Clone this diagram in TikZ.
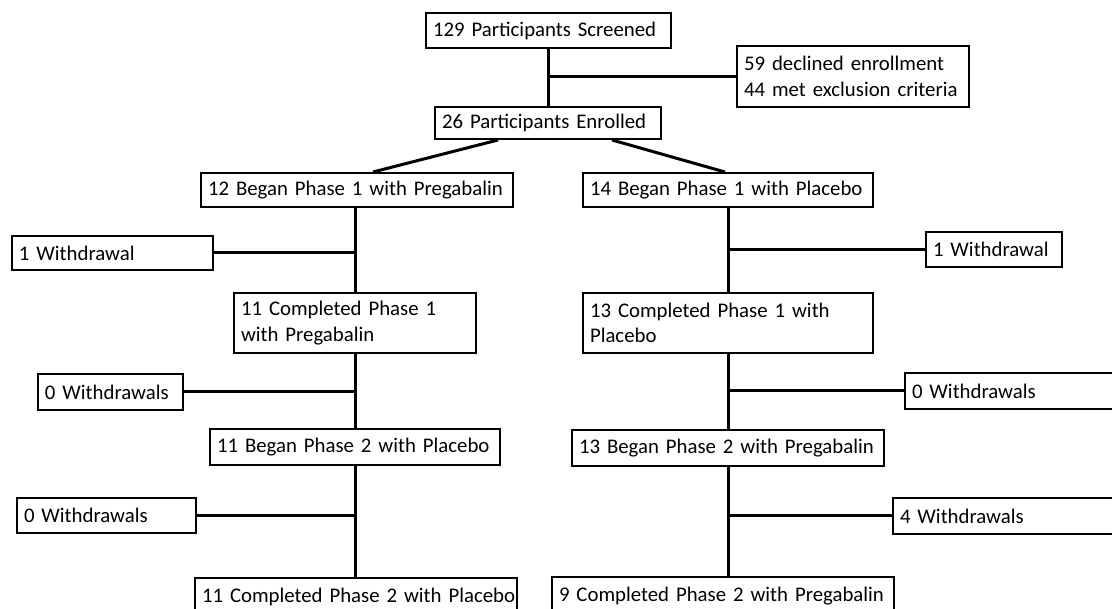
\documentclass[tikz,border=0pt]{standalone}
\usepackage{fontspec}
\setmainfont{Carlito}
\newcommand\myboxfont{\fontsize{20.8}{25.6}\selectfont}
\begin{document}
\begin{tikzpicture}[x=1pt,y=-1pt,
  box/.style={draw, line width=2pt, inner xsep=7pt, inner ysep=0pt, align=left,
    font=\myboxfont},
  link/.style={line width=3pt}]
\useasboundingbox (0,0) rectangle (1112,609);
\clip (0,0) rectangle (1112,609);
% boxes
\node[box, text width=231, minimum height=35] (scr) at (548.5,30.5) {\mbox{129 Participants Screened}};
\node[box, text width=218, minimum height=61] (decl) at (853,76.5) {\mbox{59 declined enrollment}\\\mbox{44 met exclusion criteria}};
\node[box, text width=212, minimum height=32] (enr) at (548,123) {\mbox{26 Participants Enrolled}};
\node[box, text width=298, minimum height=34] (b1L) at (357,190) {\mbox{12 Began Phase 1 with Pregabalin}};
\node[box, text width=276, minimum height=34] (b1R) at (728,190) {\mbox{14 Began Phase 1 with Placebo}};
\node[box, text width=187, minimum height=34] (w1L) at (112.5,253) {\mbox{1 Withdrawal}};
\node[box, text width=122, minimum height=35] (w1R) at (994,249.5) {\mbox{1 Withdrawal}};
\node[box, text width=228, minimum height=60] (c1L) at (355,323) {\mbox{11 Completed Phase 1}\\\mbox{with Pregabalin}};
\node[box, text width=276, minimum height=60] (c1R) at (728,323) {\mbox{13 Completed Phase 1 with}\\\mbox{Placebo}};
\node[box, text width=131, minimum height=36] (w2L) at (110.5,392) {\mbox{0 Withdrawals}};
\node[box, text width=211, minimum height=36] (w2R) at (1017.5,391) {\mbox{0 Withdrawals}};
\node[box, text width=276, minimum height=36] (b2L) at (355,447) {\mbox{11 Began Phase 2 with Placebo}};
\node[box, text width=298, minimum height=36] (b2R) at (728,448) {\mbox{13 Began Phase 2 with Pregabalin}};
\node[box, text width=165, minimum height=35] (w3L) at (106.5,515.5) {\mbox{0 Withdrawals}};
\node[box, text width=223, minimum height=36] (w3R) at (1011.5,516) {\mbox{4 Withdrawals}};
\node[box, text width=308, minimum height=38] (c2L) at (356,597) {\mbox{11 Completed Phase 2 with Placebo}};
\node[box, text width=328, minimum height=38] (c2R) at (723,596) {\mbox{9 Completed Phase 2 with Pregabalin}};
% connectors
\draw[link] (scr.south) -- (scr.south |- enr.north);
\coordinate (j0) at (scr.south |- decl.west);
\draw[link] (j0) -- (decl.west);
\draw[link] ([xshift=-50]enr.south) -- ([xshift=16]b1L.north);
\draw[link] ([xshift=64]enr.south) -- ([xshift=-3]b1R.north);
% left column
\draw[link] (c1L.north |- b1L.south) -- (c1L.north);
\draw[link] (w1L.east) -- (w1L.east -| c1L.north);
\draw[link] (c1L.south) -- (b2L.north);
\draw[link] (w2L.east) -- (w2L.east -| c1L.south);
\draw[link] (b2L.south) -- (b2L.south |- c2L.north);
\draw[link] (w3L.east) -- (w3L.east -| b2L.south);
% right column
\draw[link] (b1R.south) -- (c1R.north);
\draw[link] (w1R.west) -- (w1R.west -| b1R.south);
\draw[link] (c1R.south) -- (b2R.north);
\draw[link] (w2R.west) -- (w2R.west -| c1R.south);
\draw[link] (b2R.south) -- (b2R.south |- c2R.north);
\draw[link] (w3R.west) -- (w3R.west -| b2R.south);
\end{tikzpicture}
\end{document}
